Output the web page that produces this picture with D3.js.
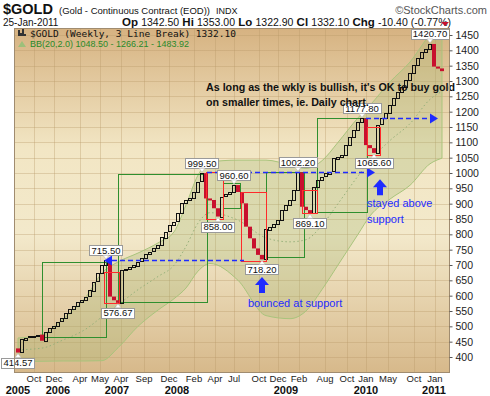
<!DOCTYPE html>
<html>
<head>
<meta charset="utf-8">
<script src="https://cdn.jsdelivr.net/npm/d3@7"></script>
<style>
  body { margin: 0; background: #fff; }
  svg { display: block; font-family: "Liberation Sans", Arial, sans-serif; }
</style>
</head>
<body>
<div id="chart"></div>
<script>
// weekly three line break columns: close of each line, oldest first
var firstOpen = 428;
var closes = [
  414.57, 458, 463, 467, 470, 473, 453,
  482, 494, 501, 515, 526, 542, 555, 565, 578, 586, 597, 618, 646, 673, 700, 715.5,
  597, 585, 576.67,
  683, 686, 692.5, 699, 711, 722, 736, 743.5, 754.5, 765, 790, 809, 830, 841, 868, 901, 912, 920, 939, 972, 999.5,
  917, 912, 885, 858,
  923, 930, 937, 960.6,
  938, 901, 825, 787, 754, 733, 718.2,
  816, 825, 834, 847, 879, 896, 912, 945, 1002.2,
  890, 879, 869.1,
  955, 977, 988, 999, 1004, 1048, 1053, 1059, 1091, 1118, 1140, 1165, 1177.8,
  1091, 1081, 1065.6,
  1157, 1178, 1195, 1222, 1244, 1265, 1281, 1303, 1325, 1352, 1375, 1396, 1405, 1420.7,
  1347, 1341, 1332.1
];

// Bollinger bands (20,2) read at a few columns
var bbIdx   = [0, 6, 11, 17, 21, 25, 30, 35, 39, 42, 45, 48, 55, 62, 68, 72, 76, 80, 85, 88, 93, 98, 103, 106];
var bbUpper = [462, 472, 521, 596, 674, 710, 739, 772, 808, 896, 993, 1036, 1042, 1042, 1026, 1015, 1040, 1100, 1180, 1221, 1297, 1362, 1450, 1483.92];
var bbMid   = [423.5, 429, 454, 491.5, 531, 570, 619.5, 662.5, 699, 760.5, 836.5, 870.5, 846, 788.5, 775.5, 782.5, 830, 900, 990, 1040.5, 1106, 1161, 1240, 1266.21];
var bbLower = [385, 386, 387, 387, 388, 430, 500, 553, 590, 625, 680, 705, 650, 535, 525, 550, 620, 700, 800, 860, 915, 960, 1030, 1048.5];

var yTicks = [400, 450, 500, 550, 600, 650, 700, 750, 800, 850, 900, 950, 1000, 1050, 1100, 1150, 1200, 1250, 1300, 1350, 1400, 1450];
var monthLabels = ["Oct", "Dec", "Apr", "May", "Apr", "Sep", "Dec", "Feb", "Apr", "Jul", "Oct", "Dec", "Feb", "Aug", "Oct", "Jan", "May", "Oct", "Jan"];
var monthIdx    = [4, 9, 15.5, 20.5, 25.75, 31.5, 37.75, 44, 49.25, 54, 60.25, 65, 70.25, 76.75, 82.25, 87, 92.5, 99, 104.25];
var yearLabels  = ["2005", "2006", "2007", "2008", "2009", "2010", "2011"];
var yearIdx     = [0, 10, 24.75, 39.75, 67, 87, 104];

// columns that carry a price tag
var tagIdx = [0, 22, 25, 46, 50, 54, 61, 70, 73, 86, 89, 103];

// hand drawn boxes: [from column, to column, top price, bottom price]
var greenBoxes = [[6.5, 22.5, 710, 465], [25.5, 47.75, 997, 579], [51.75, 56, 967, 886], [62.5, 72, 1003, 726], [75.25, 87.75, 1179, 873]];
var redBoxes   = [[22, 25.75, 677, 576], [47.5, 51.75, 1003, 850], [56.25, 62.5, 938, 713], [71.5, 75.25, 945, 870], [87.75, 91, 1150, 1059]];
// dashed support lines: [from column, to column, price, arrow direction]
var supportLines = [[22, 57, 715.5, "left"], [47.75, 87.75, 1002.2, "right"], [87.5, 103.5, 1177.8, "right"]];
var upArrows = [[61.5, 661], [91, 980]];

var W = 490, H = 396;
var plot = { left: 14, right: 449, top: 28, bottom: 372 };

var svg = d3.select("#chart").append("svg")
  .attr("width", W)
  .attr("height", H);

var x = d3.scaleLinear().domain([0, closes.length]).range([16, 444]);
var y = d3.scaleLinear().domain([400, 1450]).range([357, 35]);
var xc = function(i) { return x(i + 0.5); };

var defs = svg.append("defs");
var grad = defs.append("linearGradient").attr("id", "bg").attr("x1", 0).attr("y1", 0).attr("x2", 0).attr("y2", 1);
grad.append("stop").attr("offset", "0%").attr("stop-color", "#d6b281");
grad.append("stop").attr("offset", "35%").attr("stop-color", "#f2e6c4");
grad.append("stop").attr("offset", "60%").attr("stop-color", "#f3e9cb");
grad.append("stop").attr("offset", "100%").attr("stop-color", "#d7b98b");
defs.append("clipPath").attr("id", "clip").append("rect")
  .attr("x", plot.left).attr("y", plot.top)
  .attr("width", plot.right - plot.left).attr("height", plot.bottom - plot.top);

svg.append("rect")
  .attr("x", plot.left).attr("y", plot.top)
  .attr("width", plot.right - plot.left).attr("height", plot.bottom - plot.top)
  .attr("fill", "url(#bg)");

var g = svg.append("g").attr("clip-path", "url(#clip)");

// grid
g.selectAll(".hgrid").data(yTicks).enter().append("line")
  .attr("x1", plot.left).attr("x2", plot.right)
  .attr("y1", function(d) { return Math.round(y(d)) + 0.5; })
  .attr("y2", function(d) { return Math.round(y(d)) + 0.5; })
  .attr("stroke", "#b89868").attr("stroke-opacity", 0.35);
g.selectAll(".vgrid").data(monthIdx).enter().append("line")
  .attr("x1", function(d) { return Math.round(xc(d)) + 0.5; })
  .attr("x2", function(d) { return Math.round(xc(d)) + 0.5; })
  .attr("y1", plot.top).attr("y2", plot.bottom)
  .attr("stroke", "#b89868").attr("stroke-opacity", 0.35);

// bollinger bands
var bb = bbIdx.map(function(d, i) { return { i: d, u: bbUpper[i], m: bbMid[i], l: bbLower[i] }; });
g.append("path").datum(bb)
  .attr("d", d3.area().curve(d3.curveMonotoneX)
    .x(function(d) { return xc(d.i); })
    .y0(function(d) { return y(d.l); })
    .y1(function(d) { return y(d.u); }))
  .attr("fill", "#9db56a").attr("fill-opacity", 0.28)
  .attr("stroke", "#a9c47c").attr("stroke-width", 1);
g.append("path").datum(bb)
  .attr("d", d3.line().curve(d3.curveMonotoneX)
    .x(function(d) { return xc(d.i); })
    .y(function(d) { return y(d.m); }))
  .attr("fill", "none").attr("stroke", "#96b07a")
  .attr("stroke-dasharray", "1.5 2.5");

// annotation boxes
function boxes(data, color) {
  g.selectAll(null).data(data).enter().append("rect")
    .attr("x", function(d) { return Math.round(x(d[0])) + 0.5; })
    .attr("y", function(d) { return Math.round(y(d[2])) + 0.5; })
    .attr("width", function(d) { return Math.round(x(d[1]) - x(d[0])); })
    .attr("height", function(d) { return Math.round(y(d[3]) - y(d[2])); })
    .attr("fill", "none").attr("stroke", color).attr("stroke-width", 1);
}
boxes(greenBoxes, "#2f8f2f");

// line break columns
var cols = closes.map(function(c, i) {
  var o = i === 0 ? firstOpen : closes[i - 1];
  return { i: i, open: o, close: c, up: c > o };
});
g.selectAll(".up").data(cols.filter(function(d) { return d.up; })).enter().append("rect")
  .attr("x", function(d) { return x(d.i) + 0.5; })
  .attr("y", function(d) { return Math.round(y(d.close)) + 0.5; })
  .attr("width", function(d) { return x(d.i + 1) - x(d.i) - 1; })
  .attr("height", function(d) { return Math.max(1, Math.round(y(d.open) - y(d.close))); })
  .attr("fill", "none").attr("stroke", "#111").attr("stroke-width", 1);
g.selectAll(".down").data(cols.filter(function(d) { return !d.up; })).enter().append("rect")
  .attr("x", function(d) { return x(d.i); })
  .attr("y", function(d) { return y(d.open); })
  .attr("width", function(d) { return x(d.i + 1) - x(d.i); })
  .attr("height", function(d) { return Math.max(2, y(d.close) - y(d.open)); })
  .attr("fill", "#c8102e");

boxes(redBoxes, "#ff2a2a");

// support lines
var blue = "#1f2bff";
supportLines.forEach(function(s) {
  var yy = Math.round(y(s[2])) + 0.5;
  var a = s[3] === "left" ? x(s[0]) + 8 : x(s[0]);
  var b = x(s[1]);
  g.append("line").attr("x1", a).attr("x2", b).attr("y1", yy).attr("y2", yy)
    .attr("stroke", blue).attr("stroke-width", 1.4).attr("stroke-dasharray", "5 3");
  var tip = s[3] === "left" ? x(s[0]) : x(s[1]) + 8;
  var base = s[3] === "left" ? tip + 8 : tip - 8;
  g.append("path")
    .attr("d", "M" + tip + "," + yy + "L" + base + "," + (yy - 5) + "L" + base + "," + (yy + 5) + "Z")
    .attr("fill", blue);
});

// up arrows
g.selectAll(".arrow").data(upArrows).enter().append("path")
  .attr("d", function(d) {
    var cx = xc(d[0]) - 2, ty = y(d[1]);
    return "M" + cx + "," + ty + "L" + (cx + 7) + "," + (ty + 8) + "L" + (cx + 3) + "," + (ty + 8) +
      "L" + (cx + 3) + "," + (ty + 16) + "L" + (cx - 3) + "," + (ty + 16) + "L" + (cx - 3) + "," + (ty + 8) +
      "L" + (cx - 7) + "," + (ty + 8) + "Z";
  })
  .attr("fill", blue);

// price tags
var fmt = d3.format(".2f");
tagIdx.forEach(function(i) {
  var c = cols[i];
  var label = fmt(c.close);
  var cx = xc(i);
  var py = y(c.close);
  var w = label.length * 4.9 + 4, h = 10;
  var by = c.up ? py - 5 - h : py + 5;
  var tg = svg.append("g");
  tg.append("rect").attr("x", Math.round(cx - w / 2) + 0.5).attr("y", Math.round(by) + 0.5)
    .attr("width", Math.round(w)).attr("height", h)
    .attr("fill", "#fff").attr("stroke", "#9a9a9a");
  var t0 = c.up ? by + h : by;
  var t1 = c.up ? py - 1 : py + 1;
  tg.append("path").attr("d", "M" + (cx - 3) + "," + t0 + "L" + (cx + 3) + "," + t0 + "L" + cx + "," + t1 + "Z")
    .attr("fill", "#fff").attr("stroke", "#bbb").attr("stroke-width", 0.6);
  tg.append("text").attr("x", cx).attr("y", by + 8.5)
    .attr("text-anchor", "middle").attr("font-size", "9.5px").attr("fill", "#111")
    .text(label);
});

// notes
var note = svg.append("g").attr("font-weight", "bold").attr("font-size", "10.7px").attr("fill", "#111");
note.append("text").attr("x", x(47.5)).attr("y", y(1267)).text("As long as the wkly is bullish, it's OK to buy gold");
note.append("text").attr("x", x(47.5)).attr("y", y(1220)).text("on smaller times, ie. Daily chart.");
var bnote = svg.append("g").attr("font-size", "11px").attr("fill", blue);
bnote.append("text").attr("x", x(58)).attr("y", y(563)).text("bounced at support");
bnote.append("text").attr("x", x(87.75)).attr("y", y(888)).text("stayed above");
bnote.append("text").attr("x", x(87.75)).attr("y", y(836)).text("support");

// frame and y axis
svg.append("rect")
  .attr("x", plot.left + 0.5).attr("y", plot.top + 0.5)
  .attr("width", plot.right - plot.left).attr("height", plot.bottom - plot.top)
  .attr("fill", "none").attr("stroke", "#a08c70");
var yAxis = svg.append("g").attr("transform", "translate(" + (plot.right + 0.5) + ",0)")
  .call(d3.axisRight(y).tickValues(yTicks).tickFormat(d3.format("d")).tickSize(3).tickPadding(3));
yAxis.select(".domain").remove();
yAxis.selectAll("line").attr("stroke", "#555");
yAxis.selectAll("text").attr("font-size", "10.5px").attr("font-family", "Liberation Sans, Arial, sans-serif").attr("fill", "#222");

// x labels
svg.selectAll(".month").data(monthIdx).enter().append("text")
  .attr("x", function(d) { return xc(d); }).attr("y", 382)
  .attr("text-anchor", "middle").attr("font-size", "9.5px").attr("fill", "#222")
  .text(function(d, i) { return monthLabels[i]; });
svg.selectAll(".year").data(yearIdx).enter().append("text")
  .attr("x", function(d) { return xc(d); }).attr("y", 394)
  .attr("text-anchor", "middle").attr("font-size", "11px").attr("font-weight", "bold").attr("fill", "#111")
  .text(function(d, i) { return yearLabels[i]; });

// header
var hd = svg.append("g").attr("fill", "#111");
hd.append("text").attr("x", 3).attr("y", 14).attr("font-size", "14.5px").attr("font-weight", "bold").text("$GOLD");
var sub = hd.append("text").attr("x", 59).attr("y", 14).attr("font-size", "9.5px").text("(Gold - Continuous Contract (EOD))");
var subEnd = 59 + sub.node().getComputedTextLength();
hd.append("text").attr("x", subEnd + 6).attr("y", 14).attr("font-size", "9px").text("INDX");
hd.append("text").attr("x", 487).attr("y", 14).attr("text-anchor", "end").attr("font-size", "11px").attr("fill", "#555").text("\u00a9StockCharts.com");
hd.append("text").attr("x", 3).attr("y", 26).attr("font-size", "10px").text("25-Jan-2011");
var q = hd.append("text").attr("x", 122).attr("y", 26).attr("font-size", "10.5px");
[["Op", "1342.50"], ["Hi", "1353.00"], ["Lo", "1322.90"], ["Cl", "1332.10"], ["Chg", "-10.40 (-0.77%)"]].forEach(function(p, i) {
  q.append("tspan").attr("font-weight", "bold").attr("font-size", "11.5px").text((i ? "  " : "") + p[0] + " ");
  q.append("tspan").text(p[1]);
});
hd.append("path").attr("d", "M441,22L449,22L445,26Z").attr("fill", "#c8102e");
svg.append("text").attr("x", 30).attr("y", 37).attr("font-family", "DejaVu Sans Mono, monospace")
  .attr("font-size", "9.5px").attr("fill", "#111").text("$GOLD (Weekly, 3 Line Break) 1332.10");
svg.append("text").attr("x", 30).attr("y", 47).attr("font-size", "9px").attr("fill", "#2a8a2a")
  .text("BB(20,2.0) 1048.50 - 1266.21 - 1483.92");
svg.append("path").attr("d", "M18,36V30H20V33H22V29H24V34H26V36Z").attr("fill", "#333");
svg.append("path").attr("d", "M18,47L22,41L26,47Z").attr("fill", "#9dc07a");
</script>
</body>
</html>
